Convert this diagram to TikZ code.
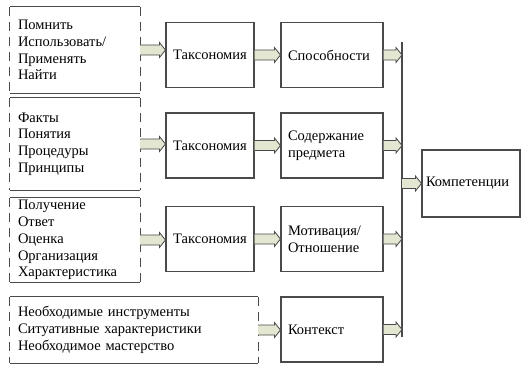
\documentclass[tikz,border=0pt]{standalone}
\usepackage{fontspec}
\setmainfont{Liberation Serif}
\usetikzlibrary{calc}
\definecolor{framecol}{HTML}{4A4A4A}
\definecolor{shaft}{HTML}{E3E6D0}

\begin{document}
\begin{tikzpicture}[x=1pt,y=-1pt,font=\fontsize{14.5}{16.8}\selectfont,
  frame/.style={draw=framecol,line width=1.1pt,minimum height=65pt,inner xsep=7pt,align=left,text width=#1},
  list/.style={inner xsep=8pt,inner ysep=0pt,align=left,text width=#1},
  side/.style={framecol,line width=1.1pt,dash pattern=on 9pt off 6pt},
  blk/.style={draw=framecol,fill=shaft,line width=.8pt,to path={let \p1=(\tikztostart),\p2=(\tikztotarget) in
    (\x1,\y1+5pt) -- (\x2-6pt,\y1+5pt) -- (\x2-6pt,\y1+7.5pt) -- (\x2,\y1) -- (\x2-6pt,\y1-7.5pt) -- (\x2-6pt,\y1-5pt) -- (\x1,\y1-5pt)}}]
\useasboundingbox (0,0) rectangle (529,369);
% left lists
\node[list=114pt,minimum height=86pt] (l1) at (75,50) {Помнить\\Использовать/\\Применять\\Найти\\[4pt]};
\node[list=114pt,minimum height=92pt] (l2) at (75,144) {Факты\\Понятия\\Процедуры\\Принципы};
\node[list=114pt,minimum height=84pt] (l3) at (75,240) {Получение\\Ответ\\Оценка\\Организация\\Характеристика};
\node[list=232pt,minimum height=66pt] (l4) at (134,330) {Необходимые инструменты\\Ситуативные характеристики\\Необходимое мастерство\\[-2pt]};
\foreach \b in {l1,l2,l3,l4}{
  \draw[framecol,line width=1.1pt] (\b.north west)--(\b.north east) (\b.south west)--(\b.south east);
  \draw[side] (\b.north west)--(\b.south west);
  \draw[side] (\b.north east)--(\b.south east);
}
% taxonomy
\node[frame=80pt,inner xsep=4pt,align=center] (t1) at (210,55) {Таксономия};
\node[frame=80pt,inner xsep=4pt,align=center] (t2) at (210,145.5) {Таксономия};
\node[frame=80pt,inner xsep=4pt,align=center] (t3) at (210,239) {Таксономия};
% results
\node[frame=88pt] (s1) at (332,55) {Способности};
\node[frame=88pt] (s2) at (332,145.5) {Содержание\\предмета};
\node[frame=88pt] (s3) at (332,239) {Мотивация/\\Отношение};
\node[frame=88pt] (s4) at (332,329.5) {Контекст};
\node[frame=90pt,inner xsep=4pt,minimum height=67pt] (comp) at (471,183.5) {Компетенции};
% bus line
\coordinate (bt) at (402,42);
\coordinate (bb) at (402,337);
\draw[framecol,line width=1.1pt] (bt)--(bb);
\foreach \i in {1,2,3}{
  \draw[blk] (l\i.east) to (t\i.west);
  \draw[blk] (t\i.east) to (s\i.west);
}
\draw[blk] (l4.east) to (s4.west);
\foreach \i in {1,...,4}\draw[blk] (s\i.east) to (s\i.east -| bt);
\draw[blk] (bt |- comp.west) to (comp.west);
\end{tikzpicture}
\end{document}
